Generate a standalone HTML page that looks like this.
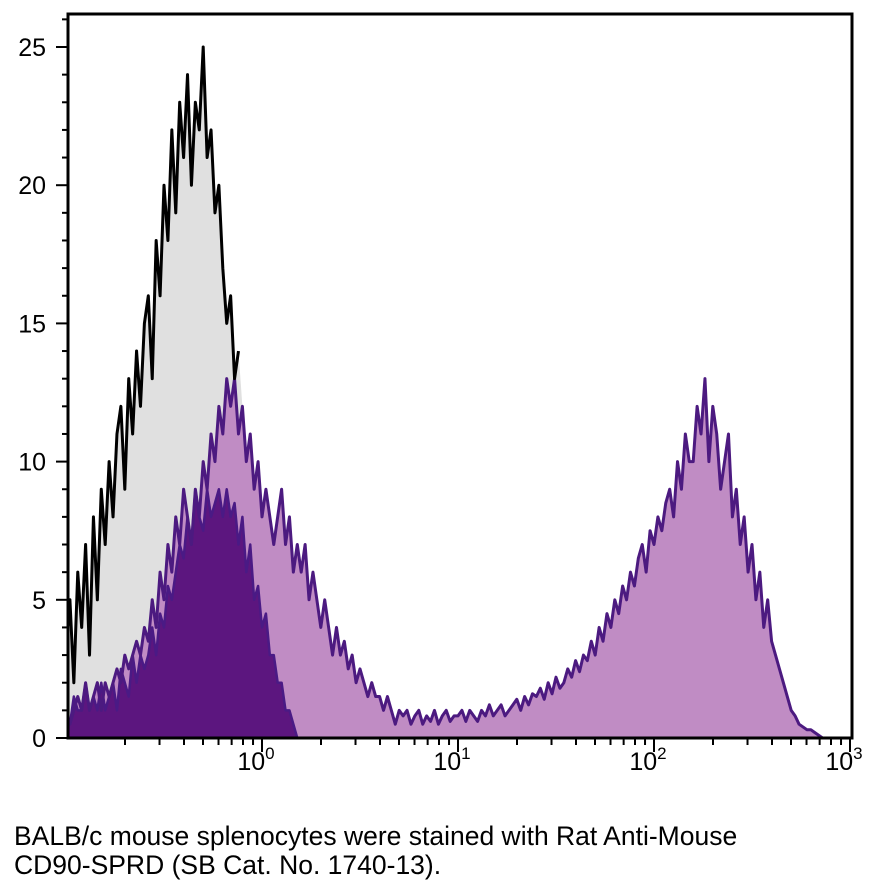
<!DOCTYPE html>
<html><head><meta charset="utf-8"><style>
body{margin:0;background:#fff;width:882px;height:893px;overflow:hidden;font-family:"Liberation Sans",sans-serif}
#cap{position:absolute;left:14px;top:822px;font-size:26.5px;line-height:29px;color:#000;white-space:nowrap}
</style></head><body>
<svg id="chart" width="882" height="820" style="position:absolute;left:0;top:0"></svg>
<div id="cap">BALB/c mouse splenocytes were stained with Rat Anti-Mouse<br>CD90-SPRD (SB Cat. No. 1740-13).</div>
<script>
const binStart = -1.0;
const binStep = 0.02;
const controlCounts = [3,5,2,6,4,7,3,8,5,9,7,10,8,11,12,9,13,11,14,12,15,16,13,18,16,20,18,22,19,23,21,24,20,23,22,25,21,22,19,20,17,15,16,13,14,12,9,5,2,0];
const stainedCounts = [1,0.5,1,1.5,1,2,1,1.5,2,1,2,1.5,2,2.5,2,3,2.5,3,3.5,3,
4,3.5,5,4,6,5,7,6,8,7,9,8,7,9,8,10,9,11,10,12,
11,13,12,13,11,12,10,11,9,10,8,9,8,7,8,9,7,8,6,7,
6,7,5,6,5,4,5,4,3,4,3,3.5,2.5,3,2,2.5,2,1.5,2,1.5,
1.5,1,1.5,1,0.5,1,0.8,1,0.5,0.8,1,0.5,0.8,0.6,1,0.5,0.8,1,0.6,0.8,
0.8,1,0.6,1,0.8,0.6,1,0.8,1.2,0.8,1,1.2,0.8,1,1.2,1.4,1,1.5,1.2,1.6,
1.5,1.8,1.4,2,1.6,2.2,1.8,2,2.5,2.2,2.8,2.4,3,2.8,3.5,3,4,3.5,4.5,4,
5,4.5,5.5,5,6,5.5,6.5,7,6,7.5,7,8,7.5,8.5,9,8,10,9,11,10,
10,12,11,13,10,12,11,9,10,11,8,9,7,8,6,7,5,6,4,5,
3.5,3,2.5,2,1.5,1,0.8,0.5,0.4,0.3,0.3,0.2,0.1,0];
const darkCounts = [1,0.5,1.5,1,1,2,1,1.5,1,2,1,1.5,2,1,2.5,2,1.5,3,2,3,
2.5,3,4,3,4.5,4,5.5,5,6,7,6.5,8,7,9,8,7.5,9,8,8.5,9,
8,9,8,8.5,7,8,6,7,5,5.5,4,4.5,3,3,2,2,1,1,0.5,0];
const yTicks = [0,5,10,15,20,25];
const xDecades = [0,1,2,3];

const L=68,R=852,T=14,B=738;
const xs = lg => 262 + lg*196;
const ys = v => B - v*27.64;
const NS="http://www.w3.org/2000/svg";
const svg=document.getElementById('chart');
function mk(t,a){const e=document.createElementNS(NS,t);for(const k in a)e.setAttribute(k,a[k]);return e;}
function pathFor(arr){
  let d=`M${xs(binStart)},${B}`;
  arr.forEach((v,i)=>{d+=` L${xs(binStart+i*binStep)},${ys(v)}`;});
  d+=` L${xs(binStart+(arr.length-1)*binStep)},${B} Z`;
  return d;
}
function linePath(arr){
  return arr.map((v,i)=>(i?'L':'M')+xs(binStart+i*binStep)+','+ys(v)).join(' ');
}
const defs=mk('defs',{});
const cp=mk('clipPath',{id:'plotclip'});cp.appendChild(mk('rect',{x:L,y:T,width:R-L,height:B-T}));defs.appendChild(cp);
svg.appendChild(defs);
const g=mk('g',{'clip-path':'url(#plotclip)'});svg.appendChild(g);

const greyFill=mk('path',{d:pathFor(controlCounts),fill:'#e0e0e0'});


g.appendChild(greyFill);
const purpFill=mk('path',{d:pathFor(stainedCounts),fill:'#c08cc4'});


g.appendChild(purpFill);
const darkFill=mk('path',{d:pathFor(darkCounts),fill:'#5c167f'});


g.appendChild(darkFill);
const darkLine=mk('path',{d:linePath(darkCounts),fill:'none',stroke:'#4a1a85','stroke-width':2.5,'stroke-linejoin':'round'});


g.appendChild(darkLine);
const purpLine=mk('path',{d:linePath(stainedCounts),fill:'none',stroke:'#4c1a80','stroke-width':3,'stroke-linejoin':'round'});


g.appendChild(purpLine);
const ctrlLine=mk('path',{d:linePath(controlCounts.slice(0,45)),fill:'none',stroke:'#000','stroke-width':3,'stroke-linejoin':'round'});


g.appendChild(ctrlLine);

const frame=mk('path',{d:`M${L},${T} L${R},${T} L${R},${B} L${L},${B} Z`,fill:'none',stroke:'#000','stroke-width':3});


svg.appendChild(frame);

for(let v=0;v<=26;v++){
  const major=v%5===0;
  const t=mk('line',{x1:L-(major?12:6),x2:L,y1:ys(v),y2:ys(v),stroke:'#000','stroke-width':2});
  
  
  svg.appendChild(t);
}
yTicks.forEach(v=>{
  const t=mk('text',{x:L-22,y:ys(v)+9,'text-anchor':'end','font-size':25,'font-family':'Liberation Sans, sans-serif'});
  t.textContent=v;
  
  
  svg.appendChild(t);
});
for(let d=-1;d<3;d++){
  for(let m=1;m<=10;m++){
    const lg=d+Math.log10(m);
    if(xs(lg)<L+1)continue;
    const major=m===10;
    const t=mk('line',{x1:xs(lg),x2:xs(lg),y1:B,y2:B+(major?14:7),stroke:'#000','stroke-width':2});
    
    
    svg.appendChild(t);
  }
}
xDecades.forEach(dd=>{
  const t=mk('text',{x:xs(dd)-6,y:B+32,'text-anchor':'middle','font-size':25,'font-family':'Liberation Sans, sans-serif'});
  t.textContent='10';
  const s=mk('tspan',{dy:-11,'font-size':17});s.textContent=dd;t.appendChild(s);
  
  
  svg.appendChild(t);
});
</script>
</body></html>
